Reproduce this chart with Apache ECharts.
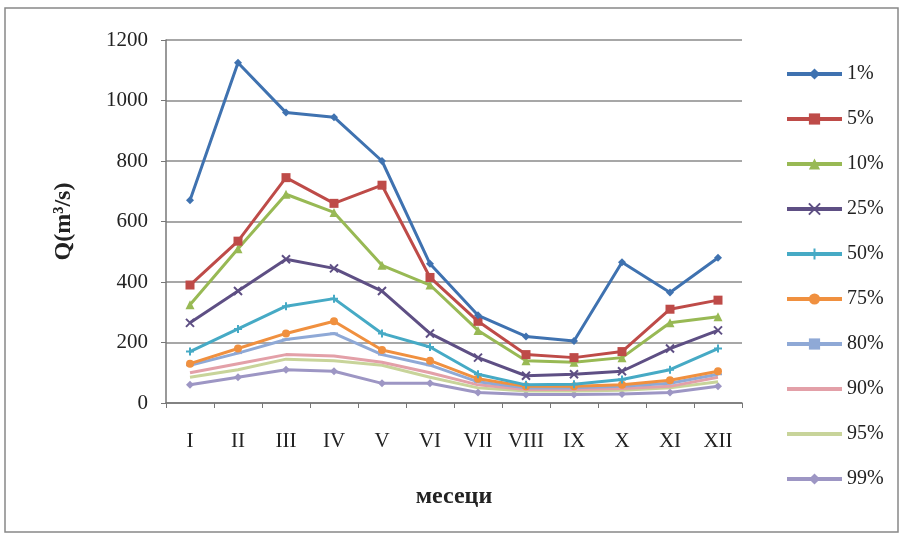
<!DOCTYPE html>
<html><head><meta charset="utf-8">
<script src="https://cdn.jsdelivr.net/npm/echarts@6/dist/echarts.min.js"></script>
<style>html,body{margin:0;padding:0;background:#fff}#c{width:902px;height:536px}</style>
</head><body><div id="c"></div>
<script>
const months = ['I','II','III','IV','V','VI','VII','VIII','IX','X','XI','XII'];
const yTicks = [0,200,400,600,800,1000,1200];
const names = ['1%','5%','10%','25%','50%','75%','80%','90%','95%','99%'];
const s1  = [670,1125,960,945,800,460,290,220,205,465,365,480];
const s5  = [390,535,745,660,720,415,270,160,150,170,310,340];
const s10 = [325,510,690,630,455,390,240,140,135,150,265,285];
const s25 = [265,370,475,445,370,230,150,90,95,105,180,240];
const s50 = [170,245,320,345,230,185,95,60,62,78,110,180];
const s75 = [130,180,230,270,175,140,80,55,55,60,75,105];
const s80 = [125,165,210,230,160,125,70,50,50,55,65,95];
const s90 = [100,130,160,155,135,100,60,45,45,48,55,85];
const s95 = [85,110,145,140,125,85,50,40,40,42,50,70];
const s99 = [60,85,110,105,65,65,35,28,28,30,35,55];
const values = [s1,s5,s10,s25,s50,s75,s80,s90,s95,s99];
const colors = ['#3F72B0','#BE4B48','#98B954','#5E4F84','#46AAC5','#F0903F','#8FA9D6','#E3A0A8','#C8D49A','#9D96C4'];
const symbols = ['diamond','rect','triangle','path://M0,0L10,10M10,0L0,10','path://M5,0L5,10M0,5L10,5','circle','path://M0,4L10,4L10,6L0,6','none','none','diamond'];
const symSizes = [8,9,9,8,8,8,[8,2],0,0,8];
const font = '"Liberation Serif","Times New Roman",serif';
const chart = echarts.init(document.getElementById('c'));
const legends = names.map((n,i)=>({
  orient:'vertical',left:780,top:59+i*45,itemWidth:55,itemHeight:14,itemGap:0,
  lineStyle:{width:4},
  textStyle:{fontFamily:font,fontSize:20,color:'#222'},
  data:[(i===7||i===8)?{name:n,itemStyle:{opacity:0}}:n]
}));
chart.setOption({
  animation:false,
  backgroundColor:'#fff',
  graphic:[{type:'rect',shape:{x:5,y:8,width:893,height:524},style:{fill:'none',stroke:'#888',lineWidth:1.5}}],
  grid:{left:166,right:160,top:40,bottom:133},
  legend:legends,
  xAxis:{type:'category',data:months,boundaryGap:true,
    name:'месеци',nameLocation:'middle',nameGap:82,
    nameTextStyle:{fontFamily:font,fontSize:24,fontWeight:'bold',color:'#222'},
    axisLine:{lineStyle:{color:'#777',width:1.5}},
    axisTick:{show:true,length:5,lineStyle:{color:'#777'}},
    axisLabel:{fontFamily:font,fontSize:21,color:'#222',margin:28}},
  yAxis:{type:'value',min:0,max:1200,interval:200,
    name:'Q(m³/s)',nameLocation:'middle',nameGap:90,nameRotate:90,
    nameTextStyle:{fontFamily:font,fontSize:24,fontWeight:'bold',color:'#222'},
    axisLine:{show:true,lineStyle:{color:'#777',width:1.5}},
    axisTick:{show:true,length:5,lineStyle:{color:'#777'}},
    splitLine:{lineStyle:{color:'#8a8a8a',width:1.5}},
    axisLabel:{fontFamily:font,fontSize:21,color:'#222',margin:18,
      formatter:v=>yTicks.includes(v)?String(v):''}},
  series:values.map((d,i)=>({
    name:names[i],type:'line',data:d,legendIndex:i,
    symbol:symbols[i],symbolSize:symSizes[i],showSymbol:i!==7&&i!==8,
    lineStyle:{color:colors[i],width:3},
    itemStyle:{color:colors[i],borderColor:colors[i],borderWidth:i===3||i===4?2:0},
    z:20-i
  }))
});
</script></body></html>
